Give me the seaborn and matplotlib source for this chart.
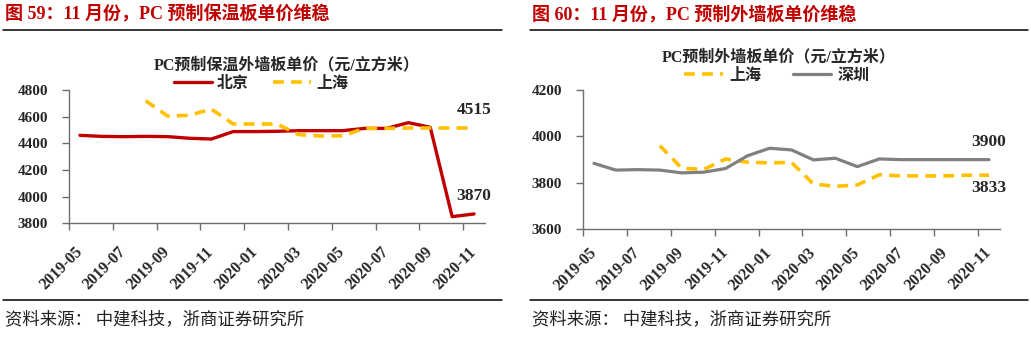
import numpy as np
import pandas as pd
import matplotlib
matplotlib.use("Agg")
import matplotlib.pyplot as plt
from matplotlib.lines import Line2D
import seaborn as sns

# ---- data -------------------------------------------------------------
months = ["2019-05", "2019-06", "2019-07", "2019-08", "2019-09", "2019-10",
          "2019-11", "2019-12", "2020-01", "2020-02", "2020-03", "2020-04",
          "2020-05", "2020-06", "2020-07", "2020-08", "2020-09", "2020-10",
          "2020-11"]

# PC prefabricated insulated exterior wall panel (yuan / m3)
insul_beijing = [4460, 4452, 4450, 4452, 4450, 4438, 4432, 4488, 4488, 4490,
                 4495, 4495, 4495, 4512, 4512, 4555, 4520, 3850, 3870]
insul_shanghai = [np.nan, np.nan, np.nan, 4720, 4605, 4610, 4657, 4545, 4545,
                  4545, 4465, 4455, 4457, 4512, 4512, 4515, 4515, 4515, 4515]

# PC prefabricated exterior wall panel (yuan / m3)
wall_shanghai = [np.nan, np.nan, np.nan, 3960, 3863, 3858, 3903, 3889, 3886,
                 3888, 3795, 3785, 3791, 3835, 3830, 3830, 3830, 3833, 3833]
wall_shenzhen = [3884, 3855, 3857, 3855, 3843, 3846, 3862, 3917, 3949, 3942,
                 3899, 3906, 3870, 3903, 3900, 3900, 3900, 3900, 3900]

label_months = months[::2]

# ---- style ------------------------------------------------------------
sns.set_theme(style="white")
plt.rcParams["font.family"] = ["Liberation Serif", "Noto Sans CJK SC", "DejaVu Sans"]
plt.rcParams["axes.unicode_minus"] = False

SERIF = ["Liberation Serif", "Noto Sans CJK SC"]
CJK = ["Noto Sans CJK SC", "Liberation Serif"]
RED = "#C00000"
YELLOW = "#FFC000"
GRAY = "#808080"
AXIS = "#6e6e6e"

W, H = 1031, 337
fig = plt.figure(figsize=(W / 100, H / 100), dpi=100)
fig.patch.set_facecolor("white")

axL = fig.add_axes([69 / W, 1 - 223.3 / H, 416 / W, 133.3 / H])
axR = fig.add_axes([583 / W, 1 - 229.3 / H, 417 / W, 139.3 / H])

x = np.arange(len(months))
dash = (0, (3.0, 2.0))


def draw_series(ax, values, color, lw, ls="-"):
    df = pd.DataFrame({"x": x, "y": values}).dropna()
    sns.lineplot(data=df, x="x", y="y", ax=ax, color=color, linewidth=lw,
                 linestyle=ls, legend=False)


draw_series(axL, insul_beijing, RED, 2.4)
draw_series(axL, insul_shanghai, YELLOW, 2.6, dash)
draw_series(axR, wall_shanghai, YELLOW, 2.6, dash)
draw_series(axR, wall_shenzhen, GRAY, 2.3)


def style_axis(ax, ylim, yticks, xpad):
    ax.set_xlim(-0.5, len(months) - 0.5)
    ax.set_ylim(*ylim)
    ax.set_yticks(yticks)
    ax.set_yticklabels([str(v) for v in yticks], fontfamily=SERIF,
                       fontweight="bold", fontsize=11)
    ax.set_xticks(x[::2])
    ax.set_xticklabels(label_months, rotation=45, ha="right", va="center",
                       rotation_mode="anchor", fontfamily=SERIF,
                       fontweight="bold", fontsize=11.5)
    ax.set_xticks(np.arange(-0.5, len(months) - 1, 2), minor=True)
    ax.tick_params(axis="x", which="major", length=0, pad=xpad)
    ax.tick_params(axis="x", which="minor", length=5, width=1, color=AXIS,
                   direction="out", bottom=True)
    ax.tick_params(axis="y", length=5, width=1, color=AXIS, direction="out",
                   left=True, pad=10)
    for side in ("top", "right"):
        ax.spines[side].set_visible(False)
    for side in ("left", "bottom"):
        ax.spines[side].set_color(AXIS)
        ax.spines[side].set_linewidth(1.0)
    ax.set_xlabel("")
    ax.set_ylabel("")
    ax.grid(False)
    ax.set_facecolor("white")


style_axis(axL, (3800, 4800), [3800, 4000, 4200, 4400, 4600, 4800], 19)
style_axis(axR, (3600, 4200), [3600, 3800, 4000, 4200], 15)

# end-value labels
ann = dict(textcoords="offset points", ha="center", va="center",
           fontfamily=SERIF, fontweight="bold", fontsize=12.5)
last = len(months) - 1
axL.annotate(f"{insul_shanghai[-1]:.0f}", xy=(last, insul_shanghai[-1]),
             xytext=(0, 13), **ann)
axL.annotate(f"{insul_beijing[-1]:.0f}", xy=(last, insul_beijing[-1]),
             xytext=(0, 13), **ann)
axR.annotate(f"{wall_shenzhen[-1]:.0f}", xy=(last, wall_shenzhen[-1]),
             xytext=(0, 13), **ann)
axR.annotate(f"{wall_shanghai[-1]:.0f}", xy=(last, wall_shanghai[-1]),
             xytext=(0, -9.5), **ann)

# chart titles and legends
fig.text(287 / W, 1 - 65 / H, "PC预制保温外墙板单价（元/立方米）",
         ha="center", va="center", fontsize=11.5, fontweight="bold",
         fontfamily=SERIF)
fig.text(779 / W, 1 - 57 / H, "PC预制外墙板单价（元/立方米）",
         ha="center", va="center", fontsize=11.5, fontweight="bold",
         fontfamily=SERIF)

leg_font = dict(family=CJK, weight="bold", size=11.5)
hL = [Line2D([], [], color=RED, lw=2.4),
      Line2D([], [], color=YELLOW, lw=2.6, ls=dash)]
axL.legend(hL, ["北京", "上海"], ncol=2, frameon=False, prop=leg_font,
           loc="center", bbox_to_anchor=(261 / W, 1 - 83 / H),
           bbox_transform=fig.transFigure, handlelength=2.4,
           columnspacing=1.5, handletextpad=0.3, borderaxespad=0)
hR = [Line2D([], [], color=YELLOW, lw=2.6, ls=dash),
      Line2D([], [], color=GRAY, lw=2.3)]
axR.legend(hR, ["上海", "深圳"], ncol=2, frameon=False, prop=leg_font,
           loc="center", bbox_to_anchor=(777 / W, 1 - 75 / H),
           bbox_transform=fig.transFigure, handlelength=2.4,
           columnspacing=2.0, handletextpad=0.4, borderaxespad=0)

# figure headers, rules and source notes
fig.text(5 / W, 1 - 14.5 / H, "图 59：11 月份，PC 预制保温板单价维稳",
         ha="left", va="center", color=RED, fontsize=13, fontweight="bold",
         fontfamily=SERIF)
fig.text(532 / W, 1 - 14.5 / H, "图 60：11 月份，PC 预制外墙板单价维稳",
         ha="left", va="center", color=RED, fontsize=13, fontweight="bold",
         fontfamily=SERIF)
for x0, x1 in ((3, 502), (530, 1028)):
    for yy in (30, 300):
        fig.add_artist(Line2D([x0 / W, x1 / W], [1 - yy / H, 1 - yy / H],
                              color="black", lw=1.1,
                              transform=fig.transFigure))
for x0 in (5, 532):
    fig.text(x0 / W, 1 - 319 / H, "资料来源： 中建科技，浙商证券研究所",
             ha="left", va="center", fontsize=12.5, fontfamily=CJK,
             color="#222222")

fig.savefig("out.png", dpi=100, facecolor="white")
